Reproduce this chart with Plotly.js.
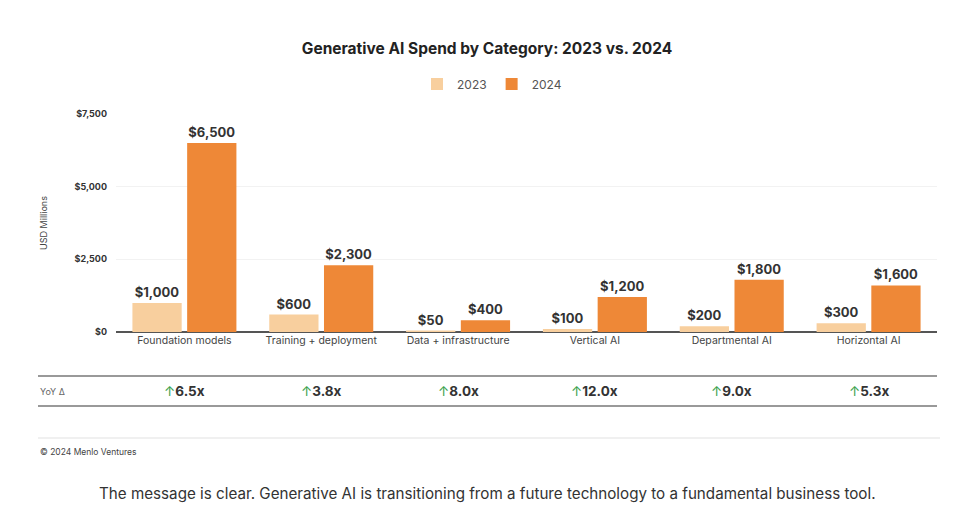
<!DOCTYPE html>
<html>
<head>
<meta charset="utf-8">
<script src="https://cdn.plot.ly/plotly-3.0.1.min.js"></script>
<style>html,body{margin:0;padding:0;background:#fff;}#chart{width:960px;height:518px;}</style>
</head>
<body>
<div id="chart"></div>
<script>
const categories = ["Foundation models", "Training + deployment", "Data + infrastructure", "Vertical AI", "Departmental AI", "Horizontal AI"];
const spend2023 = [1000, 600, 50, 100, 200, 300];
const spend2024 = [6500, 2300, 400, 1200, 1800, 1600];
const yTickVals = [0, 2500, 5000, 7500];
const yTickText = ["$0", "$2,500", "$5,000", "$7,500"];

const FONT = "Inter, 'Open Sans', sans-serif";
const W = 960, H = 518, L = 116, R = 23, T = 114, B = 186;
const pw = W - L - R, ph = H - T - B;
const px = x => (x - L) / pw;
const py = y => (H - B - y) / ph;

const traces = [
  {type: "bar", name: "2023", x: categories, y: spend2023,
   marker: {color: "#F8CF9E"},
   texttemplate: "$%{y:,}", textposition: "outside",
   textfont: {family: FONT, size: 13, color: "#333", weight: 700},
   cliponaxis: false, hoverinfo: "skip"},
  {type: "bar", name: "2024", x: categories, y: spend2024,
   marker: {color: "#EE8837"},
   texttemplate: "$%{y:,}", textposition: "outside",
   textfont: {family: FONT, size: 13, color: "#333", weight: 700},
   cliponaxis: false, hoverinfo: "skip"}
];

const annotations = [];
const shapes = [];
categories.forEach((c, i) => {
  const r = (spend2024[i] / spend2023[i]).toFixed(1) + "x";
  annotations.push({xref: "x", yref: "paper", x: c, y: py(391), showarrow: false,
    text: '<span style="color:#3BA14C">↑</span><b>' + r + '</b>',
    font: {family: FONT, size: 13.5, color: "#333"}, xanchor: "center", yanchor: "middle"});
});
annotations.push({xref: "paper", yref: "paper", x: px(38), y: py(391), showarrow: false,
  text: "YoY Δ", xanchor: "left", yanchor: "middle", font: {family: FONT, size: 9, color: "#666"}});
annotations.push({xref: "paper", yref: "paper", x: px(38), y: py(452), showarrow: false,
  text: "© 2024 Menlo Ventures", xanchor: "left", yanchor: "middle", font: {family: FONT, size: 8.5, color: "#444"}});
annotations.push({xref: "paper", yref: "paper", x: px(487), y: py(493), showarrow: false,
  text: "The message is clear. Generative AI is transitioning from a future technology to a fundamental business tool.",
  xanchor: "center", yanchor: "middle", font: {family: FONT, size: 15.2, color: "#333"}});

shapes.push({type: "line", xref: "paper", yref: "paper", x0: px(38), x1: px(937), y0: py(376), y1: py(376), line: {color: "#777", width: 1.5}});
shapes.push({type: "line", xref: "paper", yref: "paper", x0: px(38), x1: px(937), y0: py(406), y1: py(406), line: {color: "#777", width: 1.5}});
shapes.push({type: "line", xref: "paper", yref: "paper", x0: px(38), x1: px(940), y0: py(438), y1: py(438), line: {color: "#f0f0f0", width: 2}});

const layout = {
  width: W, height: H,
  margin: {l: L, r: R, t: T, b: B},
  paper_bgcolor: "#fff", plot_bgcolor: "#fff",
  font: {family: FONT, color: "#444"},
  title: {text: "<b>Generative AI Spend by Category: 2023 vs. 2024</b>",
    font: {family: FONT, size: 15.5, color: "#222"},
    x: 487 / W, xanchor: "center", xref: "container",
    y: 1 - 49 / H, yanchor: "middle", yref: "container"},
  barmode: "group", bargap: 0.2, bargroupgap: 0.1,
  showlegend: true,
  legend: {orientation: "h", x: px(492), xanchor: "center", y: py(84), yanchor: "middle",
    font: {family: FONT, size: 12, color: "#555"}, itemwidth: 30, tracegroupgap: 0},
  xaxis: {type: "category", showgrid: false, zeroline: false, showline: false,
    ticks: "", tickfont: {family: FONT, size: 10.5, color: "#444"}, fixedrange: true},
  yaxis: {range: [0, 7500], tickvals: yTickVals, ticktext: yTickText,
    showgrid: true, gridcolor: "#f2f2f2", gridwidth: 1,
    zeroline: true, zerolinecolor: "#555", zerolinewidth: 1.5,
    showline: false, ticks: "", ticklabelstandoff: 8,
    tickfont: {family: FONT, size: 9, color: "#333", weight: 700},
    title: {text: "USD Millions", font: {family: FONT, size: 9, color: "#444"}, standoff: 25},
    fixedrange: true},
  annotations: annotations,
  shapes: shapes
};

Plotly.newPlot("chart", traces, layout, {displayModeBar: false, staticPlot: true});
</script>
</body>
</html>
